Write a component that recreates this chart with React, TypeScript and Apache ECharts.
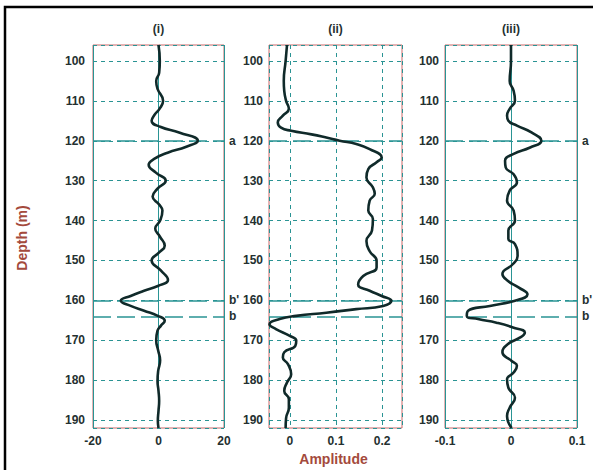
import React, { useEffect, useRef } from "react";
import * as echarts from "echarts";

// ---- data ----
const depthsI = [96, 100, 103, 105, 107, 110, 112, 113.5, 115, 116.5, 118, 120, 121.5, 123, 124.5, 126, 128, 130, 132, 134, 136, 137.5, 140, 142, 144, 146.3, 148, 150, 152.5, 154.9, 156.4, 157.6, 158.9, 160.1, 161.4, 162.6, 163.9, 165.1, 166.4, 167.6, 170, 172.6, 175, 177.7, 180.2, 182.7, 185.2, 187.7, 190.2, 192];
const valuesI = [0, 0.4, 0.2, -0.7, -0.3, 1.4, 0.3, -1.2, -2.1, 0.5, 6.5, 12.0, 8.5, 2.8, -1.2, -3.0, -0.8, 2.2, -0.3, -1.8, 0.2, 1.2, 0.5, -1.0, 0.4, 1.9, 0.2, -2.1, 0.7, 2.9, -0.2, -4.4, -8.5, -11.5, -8.5, -4.4, -0.2, 1.9, 0.7, -0.3, -0.7, -0.1, 0.5, -0.1, -0.3, 0, 0.2, 0, -0.2, 0];

const depthsII = [96, 100, 105, 107.5, 110, 112, 113.7, 115.4, 116.7, 117.5, 118.4, 119.2, 120, 120.8, 122.1, 124.2, 125.4, 127.1, 129.2, 131.7, 133.3, 135, 137.5, 139.6, 142.5, 145.1, 147.7, 150.1, 151.8, 153.9, 156, 157.6, 158.9, 160.1, 161.4, 162.2, 163.1, 163.9, 164.7, 166, 167.2, 168.9, 170.1, 171.4, 173, 174.3, 176, 178.5, 180.6, 182.7, 184.8, 186.9, 189.5, 192];
const valuesII = [-0.006, -0.009, -0.013, -0.012, -0.008, -0.002, -0.015, -0.026, -0.019, 0.003, 0.047, 0.079, 0.108, 0.144, 0.173, 0.199, 0.188, 0.17, 0.166, 0.18, 0.184, 0.173, 0.17, 0.18, 0.178, 0.166, 0.173, 0.188, 0.188, 0.159, 0.148, 0.173, 0.199, 0.22, 0.202, 0.144, 0.079, 0.014, -0.022, -0.044, -0.03, 0, 0.014, 0.012, -0.012, -0.015, -0.004, 0.003, -0.006, -0.012, -0.002, -0.002, -0.008, -0.009];

const depthsIII = [96, 100, 105, 107.5, 110, 112, 113.7, 115, 116.2, 117.9, 120, 121.7, 123.3, 125, 126.7, 128.4, 130.4, 132.5, 135, 137.5, 140, 142.5, 144.6, 145.9, 148.9, 150.9, 153.4, 155.1, 156.8, 158.5, 160.1, 161.4, 162.6, 163.9, 164.7, 165.6, 166.8, 168.1, 169.3, 171, 173, 175.2, 176.4, 178.1, 179.8, 181.9, 184.4, 186.9, 189, 192];
const valuesIII = [0, 0, -0.002, 0.004, 0.006, -0.002, -0.006, -0.004, 0.009, 0.031, 0.046, 0.029, 0.004, -0.009, -0.008, 0.004, 0.009, -0.002, -0.006, 0.004, 0.006, -0.004, -0.004, 0.006, 0.01, 0.003, -0.013, -0.005, 0.012, 0.025, 0.006, -0.032, -0.065, -0.067, -0.05, -0.022, 0.003, 0.021, 0.014, -0.005, -0.013, 0.001, 0.009, 0.004, -0.006, -0.004, 0.006, -0.002, -0.006, 0.001];

const panelTitles = ["(i)", "(ii)", "(iii)"];
const depthRange = [96, 192];
const xRanges = [
  [-20, 20],
  [-0.045, 0.243],
  [-0.1, 0.1],
];
const markerDepths = [120, 160, 164];
const markerLabels = ["a", "b'", "b"];

// ---- style ----
const FONT = "'Liberation Sans', Arial, sans-serif";
const TEAL = "#2a9494";
const BOX = "#c86868";
const TEXT = "#243030";
const BROWN = "#a44a3c";
const CURVE = "#102a2a";

const GRIDS = [
  { left: 93, top: 45, width: 131, height: 383 },
  { left: 269, top: 45, width: 133, height: 383 },
  { left: 445, top: 45, width: 132, height: 383 },
];

export default function App() {
  const ref = useRef<HTMLDivElement>(null);
  useEffect(() => {
    if (!ref.current) return;
    const chart = echarts.init(ref.current, null, { renderer: "svg" });
    const series = [
      [depthsI, valuesI],
      [depthsII, valuesII],
      [depthsIII, valuesIII],
    ];
    const isTen = (v: number) => Math.abs(v / 10 - Math.round(v / 10)) < 1e-6;
    const isTenth = (v: number) => Math.abs(v * 10 - Math.round(v * 10)) < 1e-6;
    const xFormat = [
      (v: number) => String(v),
      (v: number) => (isTenth(v) ? String(Math.round(v * 10) / 10) : ""),
      (v: number) => String(Math.round(v * 10) / 10),
    ];
    const option: any = {
      animation: false,
      backgroundColor: "#ffffff",
      grid: GRIDS.map((g) => ({ ...g, show: true, borderColor: BOX, borderWidth: 1, backgroundColor: "transparent" })),
      xAxis: xRanges.map((r, i) => ({
        type: "value",
        gridIndex: i,
        min: r[0],
        max: r[1],
        ...(i === 1 ? { splitNumber: 3 } : { interval: i === 0 ? 20 : 0.1 }),
        axisLine: { show: false },
        axisTick: { show: false },
        axisLabel: {
          formatter: xFormat[i],
          color: TEXT,
          fontFamily: FONT,
          fontWeight: "bold",
          fontSize: 12,
          margin: 7,
          showMinLabel: true,
          showMaxLabel: true,
        },
        splitLine: {
          show: true,
          lineStyle: { color: TEAL, width: 1, type: i === 1 ? [4, 4] : "solid" },
        },
      })),
      yAxis: GRIDS.map((_, i) => ({
        type: "value",
        gridIndex: i,
        inverse: true,
        min: depthRange[0],
        max: depthRange[1],
        splitNumber: 10,
        axisLine: { show: false },
        axisTick: { show: false },
        axisLabel: {
          formatter: (v: number) => (isTen(v) ? String(v) : ""),
          color: TEXT,
          fontFamily: FONT,
          fontWeight: "bold",
          fontSize: 12,
          margin: i === 0 ? 8 : 6,
        },
        splitLine: { show: true, lineStyle: { color: TEAL, width: 1.2, type: [4, 4] } },
      })),
      series: series.map(([d, v], i) => ({
        type: "line",
        xAxisIndex: i,
        yAxisIndex: i,
        data: (d as number[]).map((depth, k) => [(v as number[])[k], depth]),
        showSymbol: false,
        smooth: 0.5,
        lineStyle: { color: CURVE, width: 2.6 },
        silent: true,
        z: 5,
        markLine: {
          silent: true,
          symbol: ["none", "none"],
          lineStyle: { color: TEAL, width: 1.5, type: [18, 6] },
          label: {
            show: i !== 1,
            position: "end",
            distance: 5,
            color: TEXT,
            fontFamily: FONT,
            fontWeight: "bold",
            fontSize: 12,
            formatter: (p: any) => markerLabels[markerDepths.indexOf(p.value)] ?? "",
          },
          data: markerDepths.map((md) => ({ yAxis: md })),
          z: 4,
        },
      })),
      graphic: [
        {
          type: "rect",
          shape: { x: 5, y: 7, width: 700, height: 600 },
          style: { fill: "none", stroke: "#000", lineWidth: 2.5 },
          silent: true,
        },
        ...GRIDS.map((g, i) => ({
          type: "text",
          x: g.left + g.width / 2,
          y: 29,
          style: {
            text: panelTitles[i],
            align: "center",
            verticalAlign: "middle",
            font: `bold 12px ${FONT}`,
            fill: TEXT,
          },
          silent: true,
        })),
        {
          type: "text",
          x: 22,
          y: 238,
          rotation: Math.PI / 2,
          style: {
            text: "Depth (m)",
            align: "center",
            verticalAlign: "middle",
            font: `bold 14px ${FONT}`,
            fill: BROWN,
          },
          silent: true,
        },
        {
          type: "text",
          x: GRIDS[1].left + GRIDS[1].width / 2 - 2,
          y: 459,
          style: {
            text: "Amplitude",
            align: "center",
            verticalAlign: "middle",
            font: `bold 14px ${FONT}`,
            fill: BROWN,
          },
          silent: true,
        },
      ],
    };
    chart.setOption(option);
    return () => chart.dispose();
  }, []);
  return (
    <div
      ref={ref}
      style={{ position: "fixed", left: 0, top: 0, width: 593, height: 470, background: "#fff" }}
    />
  );
}
